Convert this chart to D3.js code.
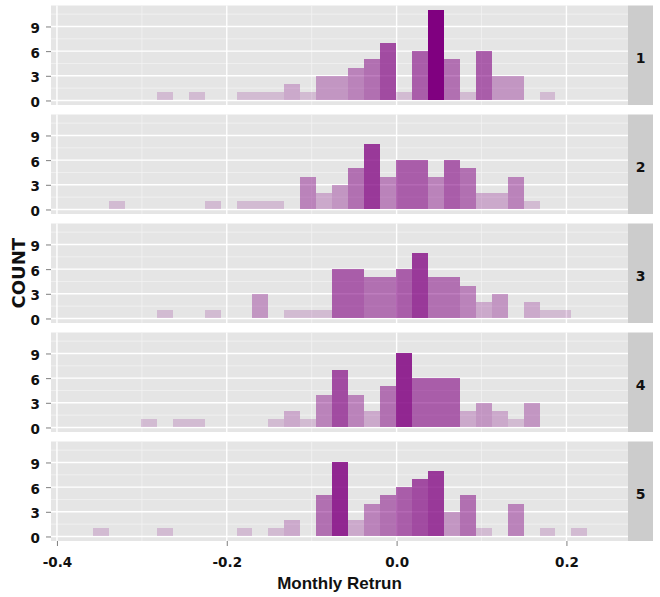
<!DOCTYPE html>
<html>
<head>
<meta charset="utf-8">
<script src="https://d3js.org/d3.v7.min.js"></script>
<style>
  body { margin: 0; background: #fff; }
  text { font-family: "Liberation Sans", Arial, sans-serif; font-weight: bold; }
  .tick text, .strip-text, .ytitle { font-family: "DejaVu Sans", Verdana, sans-serif; }
</style>
</head>
<body>
<div class="chart"></div>
<script>
// bins are shared by all panels
let binStart = -0.3763;
let binWidth = 0.01878;

let panels = ["1", "2", "3", "4", "5"];

// counts per bin, left to right (33 bins)
let counts1 = [0,0,0,0,0,1,0,1,0,0,1,1,1,2,1,3,3,4,5,7,1,6,11,5,1,6,3,3,0,1,0,0,0];
let counts2 = [0,0,1,0,0,0,0,0,1,0,1,1,1,0,4,2,3,5,8,4,6,6,4,6,5,2,2,4,1,0,0,0,0];
let counts3 = [0,0,0,0,0,1,0,0,1,0,0,3,0,1,1,1,6,6,5,5,6,8,5,5,4,2,3,0,2,1,1,0,0];
let counts4 = [0,0,0,0,1,0,1,1,0,0,0,0,1,2,1,4,7,4,2,5,9,6,6,6,2,3,2,1,3,0,0,0,0];
let counts5 = [0,1,0,0,0,1,0,0,0,0,1,0,1,2,0,5,9,2,4,5,6,7,8,3,5,1,0,4,0,1,0,1,0];
let panelCounts = [counts1, counts2, counts3, counts4, counts5];

let xTicks = [-0.4, -0.2, 0.0, 0.2];
let xTickLabels = ["-0.4", "-0.2", "0.0", "0.2"];
let xMinor = [-0.3, -0.1, 0.1];
let yTicks = [0, 3, 6, 9];
let yMinor = [1.5, 4.5, 7.5, 10.5];

let svgWidth = 660;
let svgHeight = 597;
let margin = {top: 5.5, right: 7, bottom: 56, left: 51};
let stripWidth = 25;
let panelGap = 9.5;

let panelWidth = svgWidth - margin.left - margin.right - stripWidth;
let panelHeight = (svgHeight - margin.top - margin.bottom - panelGap * (panels.length - 1)) / panels.length;

let svg = d3.select(".chart")
  .append("svg")
  .attr("width", svgWidth)
  .attr("height", svgHeight);

let xScale = d3.scaleLinear()
  .domain([-0.407, 0.2725])
  .range([0, panelWidth]);

let maxCount = d3.max(panelCounts, c => d3.max(c));
let yScale = d3.scaleLinear()
  .domain([-0.05 * maxCount, maxCount * 1.05])
  .range([panelHeight, 0]);

let alphaScale = d3.scaleLinear()
  .domain([0, maxCount])
  .range([0.1, 1]);

panels.forEach(function(label, i) {
  let top = margin.top + i * (panelHeight + panelGap);

  let g = svg.append("g")
    .attr("transform", `translate(${margin.left}, ${top})`);

  g.append("rect")
    .attr("width", panelWidth)
    .attr("height", panelHeight)
    .attr("fill", "#e5e5e5");

  // minor grid
  g.selectAll(".xminor")
    .data(xMinor)
    .enter()
    .append("line")
    .attr("x1", d => xScale(d))
    .attr("x2", d => xScale(d))
    .attr("y1", 0)
    .attr("y2", panelHeight)
    .attr("stroke", "#f2f2f2")
    .attr("stroke-width", 0.8);

  g.selectAll(".yminor")
    .data(yMinor)
    .enter()
    .append("line")
    .attr("x1", 0)
    .attr("x2", panelWidth)
    .attr("y1", d => yScale(d))
    .attr("y2", d => yScale(d))
    .attr("stroke", "#f2f2f2")
    .attr("stroke-width", 0.8);

  // major grid
  g.selectAll(".xmajor")
    .data(xTicks)
    .enter()
    .append("line")
    .attr("x1", d => xScale(d))
    .attr("x2", d => xScale(d))
    .attr("y1", 0)
    .attr("y2", panelHeight)
    .attr("stroke", "#ffffff")
    .attr("stroke-width", 1.4);

  g.selectAll(".ymajor")
    .data(yTicks)
    .enter()
    .append("line")
    .attr("x1", 0)
    .attr("x2", panelWidth)
    .attr("y1", d => yScale(d))
    .attr("y2", d => yScale(d))
    .attr("stroke", "#ffffff")
    .attr("stroke-width", 1.4);

  let bins = panelCounts[i].map(function(c, j) {
    return {x0: binStart + j * binWidth, x1: binStart + (j + 1) * binWidth, count: c};
  }).filter(d => d.count > 0);

  g.selectAll(".bar")
    .data(bins)
    .enter()
    .append("rect")
    .attr("x", d => xScale(d.x0))
    .attr("width", d => xScale(d.x1) - xScale(d.x0))
    .attr("y", d => yScale(d.count))
    .attr("height", d => yScale(0) - yScale(d.count))
    .attr("fill", "purple")
    .attr("fill-opacity", d => alphaScale(d.count))
    .attr("shape-rendering", "crispEdges");

  let leftAxis = d3.axisLeft(yScale)
    .tickValues(yTicks)
    .tickSize(5)
    .tickPadding(6);

  let yAxis = g.append("g").call(leftAxis);
  yAxis.select(".domain").remove();
  yAxis.selectAll(".tick line").attr("stroke", "#7f7f7f");
  yAxis.selectAll(".tick text")
    .attr("fill", "#111")
    .attr("dy", "0.45em")
    .style("font-size", "13.5px");

  if (i === panels.length - 1) {
    let bottomAxis = d3.axisBottom(xScale)
      .tickValues(xTicks)
      .tickFormat((d, k) => xTickLabels[k])
      .tickSize(5)
      .tickPadding(11);

    let xAxis = g.append("g")
      .attr("transform", `translate(0, ${panelHeight})`)
      .call(bottomAxis);
    xAxis.select(".domain").remove();
    xAxis.selectAll(".tick line").attr("stroke", "#7f7f7f");
    xAxis.selectAll(".tick text")
      .attr("fill", "#111")
      .style("font-size", "13.5px");
  }

  // facet strip
  svg.append("rect")
    .attr("x", margin.left + panelWidth)
    .attr("y", top)
    .attr("width", stripWidth)
    .attr("height", panelHeight)
    .attr("fill", "#cccccc");

  svg.append("text")
    .attr("class", "strip-text")
    .attr("x", margin.left + panelWidth + stripWidth / 2)
    .attr("y", top + panelHeight / 2 + 3)
    .attr("text-anchor", "middle")
    .attr("dominant-baseline", "central")
    .style("font-size", "14px")
    .attr("fill", "#111")
    .text(label);
});

svg.append("text")
  .attr("x", margin.left + panelWidth / 2)
  .attr("y", 589)
  .attr("text-anchor", "middle")
  .style("font-size", "17px")
  .attr("fill", "#111")
  .text("Monthly Retrun");

svg.append("text")
  .attr("class", "ytitle")
  .attr("transform", `translate(25, ${margin.top + (svgHeight - margin.top - margin.bottom) / 2}) rotate(-90)`)
  .attr("text-anchor", "middle")
  .style("font-size", "18px")
  .attr("fill", "#111")
  .text("COUNT");
</script>
</body>
</html>
